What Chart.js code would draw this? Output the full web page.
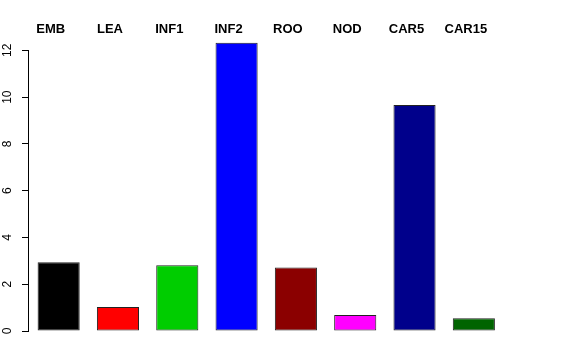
<!DOCTYPE html>
<html>
<head>
<meta charset="utf-8">
<script src="https://cdn.jsdelivr.net/npm/chart.js@4"></script>
<style>
  html, body { margin: 0; padding: 0; background: #fff; }
  #wrap { width: 576px; height: 360px; }
</style>
</head>
<body>
<div id="wrap"><canvas id="grafico"></canvas></div>
<script>
// ===== dados =====
const tecidos = ['EMB', 'LEA', 'INF1', 'INF2', 'ROO', 'NOD', 'CAR5', 'CAR15'];
const valores = [2.94, 1.03, 2.81, 12.33, 2.72, 0.68, 9.66, 0.54];
const cores = ['#000000', '#FF0000', '#00CD00', '#0000FF', '#8B0000', '#FF00FF', '#00008B', '#006400'];
const yTicks = [0, 2, 4, 6, 8, 10, 12];

// linha do eixo y só entre o primeiro e o último tick (estilo R)
const eixoR = {
  id: 'eixoR',
  afterDraw(chart) {
    const y = chart.scales.y;
    const ctx = chart.ctx;
    const x = Math.round(chart.chartArea.left) - 0.5;
    ctx.save();
    ctx.strokeStyle = '#000';
    ctx.lineWidth = 1;
    ctx.beginPath();
    ctx.moveTo(x, Math.round(y.getPixelForValue(yTicks[0])) + 0.5);
    ctx.lineTo(x, Math.round(y.getPixelForValue(yTicks[yTicks.length - 1])) + 0.5);
    ctx.stroke();
    ctx.restore();
  }
};

const ctx = document.getElementById('grafico');

new Chart(ctx, {
  type: 'bar',
  data: {
    labels: tecidos,
    datasets: [{
      data: valores,
      backgroundColor: cores,
      borderColor: '#222',
      borderWidth: 1,
      borderSkipped: false,
      categoryPercentage: 1,
      barPercentage: 0.71
    }]
  },
  options: {
    responsive: true,
    maintainAspectRatio: false,
    animation: false,
    layout: { padding: { top: 0, right: 72.5, bottom: 29, left: 0 } },
    plugins: {
      legend: { display: false },
      tooltip: { enabled: false }
    },
    scales: {
      x: {
        position: 'top',
        afterFit: s => { s.height = 41; },
        grid: { display: false, drawTicks: false },
        border: { display: false },
        ticks: {
          color: '#000',
          padding: 4,
          labelOffset: -8,
          maxRotation: 0,
          autoSkip: false,
          font: { family: 'Liberation Sans, Arial, sans-serif', size: 13, weight: 'bold' }
        }
      },
      y: {
        min: 0,
        max: 12.4,
        afterFit: s => { s.width = 29; },
        afterBuildTicks: s => { s.ticks = yTicks.map(v => ({ value: v })); },
        grid: {
          drawOnChartArea: false,
          drawTicks: true,
          tickLength: 7,
          color: '#000'
        },
        border: { display: false },
        ticks: {
          color: '#000',
          minRotation: 90,
          maxRotation: 90,
          crossAlign: 'center',
          padding: 8,
          font: { family: 'Liberation Sans, Arial, sans-serif', size: 12 }
        }
      }
    }
  },
  plugins: [eixoR]
});
</script>
</body>
</html>
